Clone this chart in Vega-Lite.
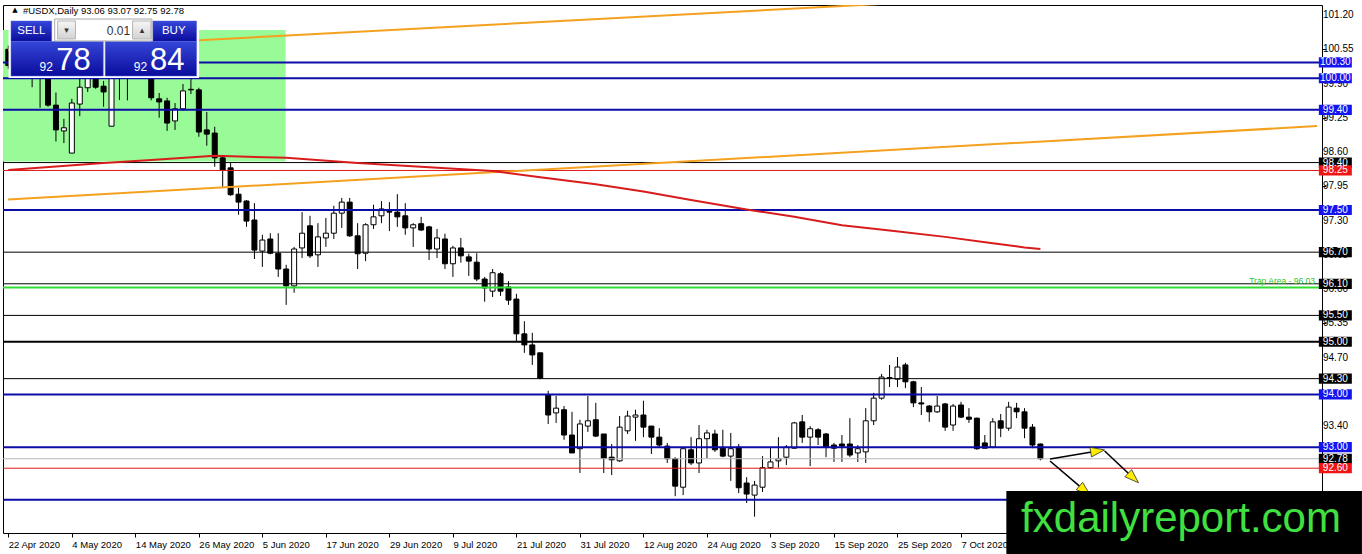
{
  "$schema": "https://vega.github.io/schema/vega-lite/v6.json",
  "width": 1319,
  "height": 528,
  "autosize": {"type": "none"},
  "padding": {"left": 3, "top": 5, "right": 40, "bottom": 21},
  "background": "white",
  "config": {
    "view": {"stroke": "black", "strokeWidth": 1},
    "text": {"font": "Liberation Sans"},
    "axis": {
      "labelFont": "Liberation Sans",
      "labelFontSize": 9.5,
      "labelColor": "black",
      "tickColor": "black",
      "tickSize": 4,
      "labelPadding": 2,
      "domain": false,
      "grid": false,
      "labelOverlap": false
    }
  },
  "datasets": {
    "bars": [
      {"i":0,"d":"2020-04-22","o":100.55,"h":100.62,"l":100.18,"c":100.24},
      {"i":1,"d":"2020-04-23","o":100.25,"h":100.65,"l":100.15,"c":100.55},
      {"i":2,"d":"2020-04-24","o":100.55,"h":100.70,"l":100.25,"c":100.35},
      {"i":3,"d":"2020-04-27","o":100.05,"h":100.55,"l":99.83,"c":100.40},
      {"i":4,"d":"2020-04-28","o":100.40,"h":100.55,"l":99.44,"c":100.15},
      {"i":5,"d":"2020-04-29","o":100.10,"h":100.30,"l":99.46,"c":99.49},
      {"i":6,"d":"2020-04-30","o":99.49,"h":99.73,"l":98.80,"c":99.02},
      {"i":7,"d":"2020-05-01","o":99.00,"h":99.23,"l":98.77,"c":99.06},
      {"i":8,"d":"2020-05-04","o":98.58,"h":99.61,"l":98.58,"c":99.53},
      {"i":9,"d":"2020-05-05","o":99.51,"h":100.10,"l":99.28,"c":99.83},
      {"i":10,"d":"2020-05-06","o":99.82,"h":100.25,"l":99.74,"c":100.10},
      {"i":11,"d":"2020-05-07","o":100.15,"h":100.30,"l":99.80,"c":99.83},
      {"i":12,"d":"2020-05-08","o":99.85,"h":99.95,"l":99.46,"c":99.74},
      {"i":13,"d":"2020-05-11","o":99.09,"h":100.40,"l":99.09,"c":100.25},
      {"i":14,"d":"2020-05-12","o":100.35,"h":100.50,"l":99.59,"c":100.15},
      {"i":15,"d":"2020-05-13","o":100.10,"h":100.55,"l":99.58,"c":100.45},
      {"i":16,"d":"2020-05-14","o":100.45,"h":100.62,"l":100.10,"c":100.30},
      {"i":17,"d":"2020-05-15","o":100.30,"h":100.70,"l":100.15,"c":100.55},
      {"i":18,"d":"2020-05-18","o":100.40,"h":100.60,"l":99.58,"c":99.63},
      {"i":19,"d":"2020-05-19","o":99.61,"h":99.72,"l":99.25,"c":99.55},
      {"i":20,"d":"2020-05-20","o":99.57,"h":99.63,"l":99.00,"c":99.15},
      {"i":21,"d":"2020-05-21","o":99.19,"h":99.53,"l":99.02,"c":99.42},
      {"i":22,"d":"2020-05-22","o":99.42,"h":99.89,"l":99.38,"c":99.76},
      {"i":23,"d":"2020-05-25","o":99.79,"h":99.99,"l":99.70,"c":99.78},
      {"i":24,"d":"2020-05-26","o":99.78,"h":99.82,"l":98.89,"c":98.98},
      {"i":25,"d":"2020-05-27","o":99.02,"h":99.36,"l":98.72,"c":98.94},
      {"i":26,"d":"2020-05-28","o":98.96,"h":99.08,"l":98.32,"c":98.49},
      {"i":27,"d":"2020-05-29","o":98.49,"h":98.54,"l":97.94,"c":98.26},
      {"i":28,"d":"2020-06-01","o":98.30,"h":98.39,"l":97.77,"c":97.79},
      {"i":29,"d":"2020-06-02","o":97.80,"h":97.92,"l":97.41,"c":97.65},
      {"i":30,"d":"2020-06-03","o":97.67,"h":97.69,"l":97.18,"c":97.29},
      {"i":31,"d":"2020-06-04","o":97.31,"h":97.63,"l":96.57,"c":96.74},
      {"i":32,"d":"2020-06-05","o":96.72,"h":97.03,"l":96.42,"c":96.93},
      {"i":33,"d":"2020-06-08","o":96.95,"h":97.06,"l":96.66,"c":96.68},
      {"i":34,"d":"2020-06-09","o":96.68,"h":97.06,"l":96.23,"c":96.38},
      {"i":35,"d":"2020-06-10","o":96.38,"h":96.46,"l":95.70,"c":96.06},
      {"i":36,"d":"2020-06-11","o":96.06,"h":96.80,"l":95.93,"c":96.76},
      {"i":37,"d":"2020-06-12","o":96.78,"h":97.46,"l":96.59,"c":97.06},
      {"i":38,"d":"2020-06-15","o":97.20,"h":97.39,"l":96.59,"c":96.63},
      {"i":39,"d":"2020-06-16","o":96.65,"h":97.25,"l":96.42,"c":96.99},
      {"i":40,"d":"2020-06-17","o":96.97,"h":97.35,"l":96.80,"c":97.06},
      {"i":41,"d":"2020-06-18","o":97.06,"h":97.58,"l":96.95,"c":97.44},
      {"i":42,"d":"2020-06-19","o":97.44,"h":97.73,"l":97.16,"c":97.65},
      {"i":43,"d":"2020-06-22","o":97.65,"h":97.73,"l":96.99,"c":97.01},
      {"i":44,"d":"2020-06-23","o":97.01,"h":97.25,"l":96.38,"c":96.67},
      {"i":45,"d":"2020-06-24","o":96.68,"h":97.25,"l":96.53,"c":97.22},
      {"i":46,"d":"2020-06-25","o":97.22,"h":97.60,"l":97.14,"c":97.37},
      {"i":47,"d":"2020-06-26","o":97.39,"h":97.67,"l":97.25,"c":97.52},
      {"i":48,"d":"2020-06-29","o":97.47,"h":97.65,"l":97.10,"c":97.46},
      {"i":49,"d":"2020-06-30","o":97.46,"h":97.80,"l":97.18,"c":97.37},
      {"i":50,"d":"2020-07-01","o":97.39,"h":97.63,"l":97.03,"c":97.16},
      {"i":51,"d":"2020-07-02","o":97.16,"h":97.25,"l":96.80,"c":97.22},
      {"i":52,"d":"2020-07-03","o":97.24,"h":97.37,"l":97.10,"c":97.12},
      {"i":53,"d":"2020-07-06","o":97.18,"h":97.20,"l":96.55,"c":96.76},
      {"i":54,"d":"2020-07-07","o":96.76,"h":97.14,"l":96.59,"c":96.97},
      {"i":55,"d":"2020-07-08","o":96.95,"h":97.05,"l":96.38,"c":96.48},
      {"i":56,"d":"2020-07-09","o":96.48,"h":96.82,"l":96.23,"c":96.78},
      {"i":57,"d":"2020-07-10","o":96.78,"h":96.97,"l":96.50,"c":96.63},
      {"i":58,"d":"2020-07-13","o":96.61,"h":96.67,"l":96.25,"c":96.53},
      {"i":59,"d":"2020-07-14","o":96.51,"h":96.68,"l":96.15,"c":96.19},
      {"i":60,"d":"2020-07-15","o":96.19,"h":96.23,"l":95.76,"c":96.02},
      {"i":61,"d":"2020-07-16","o":95.96,"h":96.38,"l":95.85,"c":96.31},
      {"i":62,"d":"2020-07-17","o":96.29,"h":96.32,"l":95.87,"c":95.96},
      {"i":63,"d":"2020-07-20","o":96.04,"h":96.15,"l":95.70,"c":95.79},
      {"i":64,"d":"2020-07-21","o":95.81,"h":95.91,"l":95.01,"c":95.15},
      {"i":65,"d":"2020-07-22","o":95.15,"h":95.39,"l":94.79,"c":94.94},
      {"i":66,"d":"2020-07-23","o":94.94,"h":95.17,"l":94.56,"c":94.75},
      {"i":67,"d":"2020-07-24","o":94.79,"h":94.79,"l":94.29,"c":94.31},
      {"i":68,"d":"2020-07-27","o":93.99,"h":94.07,"l":93.44,"c":93.61},
      {"i":69,"d":"2020-07-28","o":93.65,"h":93.97,"l":93.46,"c":93.74},
      {"i":70,"d":"2020-07-29","o":93.71,"h":93.78,"l":93.14,"c":93.23},
      {"i":71,"d":"2020-07-30","o":93.23,"h":93.67,"l":92.89,"c":92.89},
      {"i":72,"d":"2020-07-31","o":92.97,"h":93.52,"l":92.51,"c":93.44},
      {"i":73,"d":"2020-08-03","o":93.40,"h":93.97,"l":93.29,"c":93.50},
      {"i":74,"d":"2020-08-04","o":93.52,"h":93.84,"l":93.19,"c":93.21},
      {"i":75,"d":"2020-08-05","o":93.25,"h":93.25,"l":92.51,"c":92.79},
      {"i":76,"d":"2020-08-06","o":92.81,"h":93.06,"l":92.47,"c":92.76},
      {"i":77,"d":"2020-08-07","o":92.74,"h":93.59,"l":92.72,"c":93.38},
      {"i":78,"d":"2020-08-10","o":93.31,"h":93.69,"l":93.25,"c":93.59},
      {"i":79,"d":"2020-08-11","o":93.57,"h":93.71,"l":93.12,"c":93.61},
      {"i":80,"d":"2020-08-12","o":93.61,"h":93.88,"l":93.19,"c":93.38},
      {"i":81,"d":"2020-08-13","o":93.40,"h":93.40,"l":92.87,"c":93.19},
      {"i":82,"d":"2020-08-14","o":93.19,"h":93.36,"l":93.00,"c":93.04},
      {"i":83,"d":"2020-08-17","o":93.02,"h":93.08,"l":92.70,"c":92.78},
      {"i":84,"d":"2020-08-18","o":92.78,"h":92.81,"l":92.07,"c":92.26},
      {"i":85,"d":"2020-08-19","o":92.24,"h":92.97,"l":92.09,"c":92.97},
      {"i":86,"d":"2020-08-20","o":92.95,"h":93.19,"l":92.66,"c":92.70},
      {"i":87,"d":"2020-08-21","o":92.70,"h":93.42,"l":92.51,"c":93.16},
      {"i":88,"d":"2020-08-24","o":93.16,"h":93.33,"l":92.79,"c":93.27},
      {"i":89,"d":"2020-08-25","o":93.25,"h":93.33,"l":92.91,"c":92.95},
      {"i":90,"d":"2020-08-26","o":92.98,"h":93.33,"l":92.81,"c":92.83},
      {"i":91,"d":"2020-08-27","o":92.83,"h":93.27,"l":92.36,"c":92.97},
      {"i":92,"d":"2020-08-28","o":93.00,"h":93.06,"l":92.13,"c":92.23},
      {"i":93,"d":"2020-08-31","o":92.32,"h":92.43,"l":91.94,"c":92.11},
      {"i":94,"d":"2020-09-01","o":92.09,"h":92.36,"l":91.68,"c":92.28},
      {"i":95,"d":"2020-09-02","o":92.24,"h":92.83,"l":92.15,"c":92.61},
      {"i":96,"d":"2020-09-03","o":92.61,"h":93.00,"l":92.59,"c":92.72},
      {"i":97,"d":"2020-09-04","o":92.74,"h":93.19,"l":92.61,"c":92.78},
      {"i":98,"d":"2020-09-07","o":92.81,"h":93.04,"l":92.66,"c":93.00},
      {"i":99,"d":"2020-09-08","o":92.98,"h":93.48,"l":92.97,"c":93.46},
      {"i":100,"d":"2020-09-09","o":93.48,"h":93.61,"l":93.08,"c":93.19},
      {"i":101,"d":"2020-09-10","o":93.19,"h":93.40,"l":92.64,"c":93.35},
      {"i":102,"d":"2020-09-11","o":93.33,"h":93.36,"l":93.04,"c":93.19},
      {"i":103,"d":"2020-09-14","o":93.25,"h":93.27,"l":92.81,"c":93.00},
      {"i":104,"d":"2020-09-15","o":93.04,"h":93.08,"l":92.72,"c":92.98},
      {"i":105,"d":"2020-09-16","o":93.06,"h":93.23,"l":92.72,"c":93.02},
      {"i":106,"d":"2020-09-17","o":93.06,"h":93.55,"l":92.81,"c":92.85},
      {"i":107,"d":"2020-09-18","o":92.89,"h":93.04,"l":92.72,"c":92.97},
      {"i":108,"d":"2020-09-21","o":92.91,"h":93.74,"l":92.70,"c":93.50},
      {"i":109,"d":"2020-09-22","o":93.50,"h":94.03,"l":93.42,"c":93.93},
      {"i":110,"d":"2020-09-23","o":93.93,"h":94.39,"l":93.90,"c":94.33},
      {"i":111,"d":"2020-09-24","o":94.31,"h":94.56,"l":94.14,"c":94.32},
      {"i":112,"d":"2020-09-25","o":94.29,"h":94.71,"l":94.14,"c":94.52},
      {"i":113,"d":"2020-09-28","o":94.56,"h":94.60,"l":94.12,"c":94.24},
      {"i":114,"d":"2020-09-29","o":94.24,"h":94.26,"l":93.76,"c":93.84},
      {"i":115,"d":"2020-09-30","o":93.84,"h":94.14,"l":93.61,"c":93.82},
      {"i":116,"d":"2020-10-01","o":93.78,"h":93.80,"l":93.48,"c":93.67},
      {"i":117,"d":"2020-10-02","o":93.67,"h":93.97,"l":93.65,"c":93.78},
      {"i":118,"d":"2020-10-05","o":93.82,"h":93.84,"l":93.31,"c":93.38},
      {"i":119,"d":"2020-10-06","o":93.42,"h":93.82,"l":93.31,"c":93.78},
      {"i":120,"d":"2020-10-07","o":93.80,"h":93.86,"l":93.55,"c":93.57},
      {"i":121,"d":"2020-10-08","o":93.57,"h":93.74,"l":93.46,"c":93.53},
      {"i":122,"d":"2020-10-09","o":93.55,"h":93.56,"l":92.95,"c":92.97},
      {"i":123,"d":"2020-10-12","o":93.08,"h":93.23,"l":92.98,"c":92.98},
      {"i":124,"d":"2020-10-13","o":93.00,"h":93.55,"l":92.98,"c":93.48},
      {"i":125,"d":"2020-10-14","o":93.50,"h":93.63,"l":93.19,"c":93.36},
      {"i":126,"d":"2020-10-15","o":93.36,"h":93.86,"l":93.31,"c":93.76},
      {"i":127,"d":"2020-10-16","o":93.74,"h":93.84,"l":93.55,"c":93.67},
      {"i":128,"d":"2020-10-19","o":93.67,"h":93.74,"l":93.17,"c":93.36},
      {"i":129,"d":"2020-10-20","o":93.38,"h":93.44,"l":92.98,"c":93.04},
      {"i":130,"d":"2020-10-21","o":93.06,"h":93.07,"l":92.75,"c":92.78}
    ],
    "ma": [
      {"i":0,"v":98.26},{"i":12,"v":98.39},{"i":18,"v":98.45},{"i":26,"v":98.53},
      {"i":35,"v":98.49},{"i":44,"v":98.39},{"i":53,"v":98.31},{"i":61,"v":98.24},
      {"i":67,"v":98.12},{"i":74,"v":97.99},{"i":80,"v":97.85},{"i":86,"v":97.69},
      {"i":93,"v":97.51},{"i":99,"v":97.37},{"i":105,"v":97.21},{"i":111,"v":97.11},
      {"i":118,"v":96.99},{"i":124,"v":96.87},{"i":128,"v":96.79},{"i":130,"v":96.76}
    ],
    "levels": [
      {"level":100.30,"kind":"blue"},
      {"level":100.00,"kind":"blue"},
      {"level":99.40,"kind":"blue"},
      {"level":98.40,"kind":"black"},
      {"level":98.25,"kind":"red"},
      {"level":97.50,"kind":"blue"},
      {"level":96.70,"kind":"black"},
      {"level":96.10,"kind":"black"},
      {"level":96.03,"kind":"green"},
      {"level":95.50,"kind":"black"},
      {"level":95.00,"kind":"bold"},
      {"level":94.30,"kind":"black"},
      {"level":94.00,"kind":"blue"},
      {"level":93.00,"kind":"blue"},
      {"level":92.78,"kind":"grey"},
      {"level":92.60,"kind":"red"},
      {"level":92.00,"kind":"blue"}
    ],
    "priceTicks": [
      {"t":101.20},{"t":100.55},{"t":99.90},{"t":99.25},{"t":98.60},{"t":97.95},
      {"t":97.30},{"t":96.65},{"t":96.00},{"t":95.35},{"t":94.70},{"t":93.40}
    ]
  },
  "layer": [
    {
      "data": {"values": [{}]},
      "mark": {"type": "rect", "color": "#98fb98", "clip": true},
      "encoding": {
        "x": {"datum": -1},
        "x2": {"datum": 34.93},
        "y": {"datum": 100.916},
        "y2": {"datum": 98.42}
      }
    },
    {
      "data": {"name": "bars"},
      "mark": {"type": "rule", "color": "black", "strokeWidth": 1, "clip": true},
      "encoding": {
        "x": {
          "field": "i",
          "type": "quantitative",
          "scale": {"domain": [-0.04, 164.84], "nice": false, "zero": false},
          "axis": {
            "title": null,
            "orient": "bottom",
            "values": [0, 8, 16, 24, 32, 40, 48, 56, 64, 72, 80, 88, 96, 104, 112, 120, 128],
            "labelExpr": "['22 Apr 2020','4 May 2020','14 May 2020','26 May 2020','5 Jun 2020','17 Jun 2020','29 Jun 2020','9 Jul 2020','21 Jul 2020','31 Jul 2020','12 Aug 2020','24 Aug 2020','3 Sep 2020','15 Sep 2020','25 Sep 2020','7 Oct 2020','19 Oct 2020'][round(datum.value / 8)]",
            "labelAlign": "left",
            "labelBaseline": "top",
            "labelOverlap": false,
            "labelFlush": false
          }
        },
        "y": {
          "field": "l",
          "type": "quantitative",
          "scale": {"domain": [91.371, 101.39], "nice": false, "zero": false},
          "axis": {
            "title": null,
            "orient": "right",
            "values": [101.2, 100.55, 99.9, 99.25, 98.6, 97.95, 97.3, 96.65, 96, 95.35, 94.7, 94.05, 93.4, 92.75, 92.1, 91.45],
            "labels": false
          }
        },
        "y2": {"field": "h"}
      }
    },
    {
      "data": {"name": "bars"},
      "mark": {"type": "bar", "width": 5, "stroke": "black", "strokeWidth": 1, "clip": true},
      "encoding": {
        "x": {"field": "i", "type": "quantitative"},
        "y": {"field": "o", "type": "quantitative"},
        "y2": {"field": "c"},
        "fill": {"condition": {"test": "datum.c > datum.o", "value": "white"}, "value": "black"},
        "tooltip": [
          {"field": "d", "title": "Date"},
          {"field": "o", "title": "Open"},
          {"field": "h", "title": "High"},
          {"field": "l", "title": "Low"},
          {"field": "c", "title": "Close"}
        ]
      }
    },
    {
      "data": {"name": "levels"},
      "transform": [{"filter": "datum.kind == 'black' || datum.kind == 'red' || datum.kind == 'grey'"}],
      "mark": {"type": "rule", "strokeWidth": 1},
      "encoding": {
        "y": {"field": "level", "type": "quantitative"},
        "stroke": {
          "field": "kind",
          "type": "nominal",
          "scale": {
            "domain": ["blue", "black", "bold", "red", "green", "grey"],
            "range": ["#0c0ca8", "#000000", "#000000", "#e01818", "#33dd33", "#b8b8b8"]
          },
          "legend": null
        }
      }
    },
    {
      "data": {"name": "levels"},
      "transform": [{"filter": "datum.kind == 'blue' || datum.kind == 'bold' || datum.kind == 'green'"}],
      "mark": {"type": "rule", "strokeWidth": 2},
      "encoding": {
        "y": {"field": "level", "type": "quantitative"},
        "stroke": {"field": "kind", "type": "nominal", "legend": null}
      }
    },
    {
      "data": {"values": [
        {"i1": 0, "p1": 100.53, "i2": 120, "p2": 101.49},
        {"i1": -0.04, "p1": 97.70, "i2": 164.84, "p2": 99.092}
      ]},
      "mark": {"type": "rule", "color": "#f4a11f", "strokeWidth": 2, "clip": true},
      "encoding": {
        "x": {"field": "i1", "type": "quantitative"},
        "x2": {"field": "i2"},
        "y": {"field": "p1", "type": "quantitative"},
        "y2": {"field": "p2"}
      }
    },
    {
      "data": {"name": "ma"},
      "mark": {"type": "line", "color": "#d81c1c", "strokeWidth": 2, "clip": true},
      "encoding": {
        "x": {"field": "i", "type": "quantitative"},
        "y": {"field": "v", "type": "quantitative"}
      }
    },
    {
      "data": {"values": [{}]},
      "mark": {"type": "text", "text": "Trap Area - 96.03", "color": "#2ec42e", "fontSize": 8.5, "align": "right", "baseline": "bottom", "dy": -1},
      "encoding": {"x": {"datum": 164.59}, "y": {"datum": 96.03}}
    },
    {
      "data": {"values": [
        {"x1": 131.21, "y1": 92.775, "x2": 137.21, "y2": 92.927},
        {"x1": 138.09, "y1": 92.927, "x2": 141.71, "y2": 92.415},
        {"x1": 131.21, "y1": 92.737, "x2": 135.59, "y2": 92.177}
      ]},
      "mark": {"type": "rule", "color": "black", "strokeWidth": 1.6, "clip": false},
      "encoding": {
        "x": {"field": "x1", "type": "quantitative"},
        "x2": {"field": "x2"},
        "y": {"field": "y1", "type": "quantitative"},
        "y2": {"field": "y2"}
      }
    },
    {
      "data": {"values": [{}]},
      "mark": {"type": "point", "shape": "M1,0L-1,-0.7L-1,0.7Z", "size": 196, "filled": true, "fill": "#ffee00", "stroke": "#222222", "strokeWidth": 0.7, "opacity": 1, "angle": -9},
      "encoding": {"x": {"datum": 137.21}, "y": {"datum": 92.927}}
    },
    {
      "data": {"values": [{}]},
      "mark": {"type": "point", "shape": "M1,0L-1,-0.7L-1,0.7Z", "size": 196, "filled": true, "fill": "#ffee00", "stroke": "#222222", "strokeWidth": 0.7, "opacity": 1, "angle": 43},
      "encoding": {"x": {"datum": 141.71}, "y": {"datum": 92.415}}
    },
    {
      "data": {"values": [{}]},
      "mark": {"type": "point", "shape": "M1,0L-1,-0.7L-1,0.7Z", "size": 196, "filled": true, "fill": "#ffee00", "stroke": "#222222", "strokeWidth": 0.7, "opacity": 1, "angle": 40},
      "encoding": {"x": {"datum": 135.59}, "y": {"datum": 92.177}}
    },
    {
      "data": {"values": [{}]},
      "mark": {"type": "text", "text": "▲", "font": "DejaVu Sans", "fontSize": 7, "color": "black", "align": "center", "baseline": "middle"},
      "encoding": {"x": {"datum": 0.84}, "y": {"datum": 101.295}}
    },
    {
      "data": {"values": [{}]},
      "mark": {"type": "text", "text": "#USDX,Daily  93.06 93.07 92.75 92.78", "fontSize": 9.5, "color": "black", "align": "left", "baseline": "alphabetic"},
      "encoding": {"x": {"datum": 1.84}, "y": {"datum": 101.219}}
    },
    {
      "data": {"values": [{}]},
      "mark": {"type": "rect", "color": "white"},
      "encoding": {"x": {"datum": 0.03}, "x2": {"datum": 24.03}, "y": {"datum": 101.143}, "y2": {"datum": 100.005}}
    },
    {
      "data": {"values": [
        {"x1": 0.34, "x2": 5.46, "y1": 101.086, "y2": 100.697},
        {"x1": 18.21, "x2": 23.71, "y1": 101.086, "y2": 100.697},
        {"x1": 0.34, "x2": 11.96, "y1": 100.697, "y2": 100.043},
        {"x1": 12.21, "x2": 23.71, "y1": 100.697, "y2": 100.043}
      ]},
      "mark": {
        "type": "rect",
        "fill": {"gradient": "linear", "x1": 0, "y1": 0, "x2": 0, "y2": 1, "stops": [{"offset": 0, "color": "#3546d8"}, {"offset": 1, "color": "#0a0c9c"}]},
        "stroke": "#5060e0",
        "strokeWidth": 0.5
      },
      "encoding": {
        "x": {"field": "x1", "type": "quantitative"},
        "x2": {"field": "x2"},
        "y": {"field": "y1", "type": "quantitative"},
        "y2": {"field": "y2"}
      }
    },
    {
      "data": {"values": [{}]},
      "mark": {"type": "rect", "fill": "white", "stroke": "#a8a8a8", "strokeWidth": 1},
      "encoding": {"x": {"datum": 5.84}, "x2": {"datum": 18.09}, "y": {"datum": 101.124}, "y2": {"datum": 100.707}}
    },
    {
      "data": {"values": [
        {"x1": 6.21, "x2": 8.46},
        {"x1": 15.65, "x2": 17.96}
      ]},
      "mark": {
        "type": "rect",
        "fill": {"gradient": "linear", "x1": 0, "y1": 0, "x2": 0, "y2": 1, "stops": [{"offset": 0, "color": "#f6f6f6"}, {"offset": 1, "color": "#d2d2d2"}]},
        "stroke": "#b4b4b4",
        "strokeWidth": 1
      },
      "encoding": {
        "x": {"field": "x1", "type": "quantitative"},
        "x2": {"field": "x2"},
        "y": {"datum": 101.086},
        "y2": {"datum": 100.745}
      }
    },
    {
      "data": {"values": [{}]},
      "mark": {"type": "text", "text": "▾", "font": "DejaVu Sans", "fontSize": 9, "color": "#333333", "align": "center", "baseline": "middle"},
      "encoding": {"x": {"datum": 7.34}, "y": {"datum": 100.916}}
    },
    {
      "data": {"values": [{}]},
      "mark": {"type": "text", "text": "▴", "font": "DejaVu Sans", "fontSize": 9, "color": "#333333", "align": "center", "baseline": "middle"},
      "encoding": {"x": {"datum": 16.84}, "y": {"datum": 100.916}}
    },
    {
      "data": {"values": [{}]},
      "mark": {"type": "text", "text": "0.01", "fontSize": 12, "color": "#333333", "align": "right", "baseline": "middle"},
      "encoding": {"x": {"datum": 15.34}, "y": {"datum": 100.897}}
    },
    {
      "data": {"values": [{}]},
      "mark": {"type": "text", "text": "SELL", "fontSize": 11.5, "color": "white", "align": "center", "baseline": "middle"},
      "encoding": {"x": {"datum": 2.9}, "y": {"datum": 100.897}}
    },
    {
      "data": {"values": [{}]},
      "mark": {"type": "text", "text": "BUY", "fontSize": 11.5, "color": "white", "align": "center", "baseline": "middle"},
      "encoding": {"x": {"datum": 20.84}, "y": {"datum": 100.897}}
    },
    {
      "data": {"values": [{}]},
      "mark": {"type": "text", "text": "92", "fontSize": 12, "color": "white", "align": "center", "baseline": "alphabetic"},
      "encoding": {"x": {"datum": 4.78}, "y": {"datum": 100.138}}
    },
    {
      "data": {"values": [{}]},
      "mark": {"type": "text", "text": "92", "fontSize": 12, "color": "white", "align": "center", "baseline": "alphabetic"},
      "encoding": {"x": {"datum": 16.65}, "y": {"datum": 100.138}}
    },
    {
      "data": {"values": [{}]},
      "mark": {"type": "text", "text": "78", "fontSize": 31, "color": "white", "align": "center", "baseline": "alphabetic"},
      "encoding": {"x": {"datum": 8.21}, "y": {"datum": 100.157}}
    },
    {
      "data": {"values": [{}]},
      "mark": {"type": "text", "text": "84", "fontSize": 31, "color": "white", "align": "center", "baseline": "alphabetic"},
      "encoding": {"x": {"datum": 20.03}, "y": {"datum": 100.157}}
    },
    {
      "data": {"name": "priceTicks"},
      "mark": {"type": "text", "color": "black", "fontSize": 10, "align": "left", "baseline": "middle", "dx": 6, "clip": false},
      "encoding": {
        "x": {"datum": 164.84},
        "y": {"field": "t", "type": "quantitative"},
        "text": {"field": "t", "type": "quantitative", "format": ".2f"}
      }
    },
    {
      "data": {"name": "levels"},
      "transform": [{"filter": "datum.kind != 'green' && datum.level != 92"}],
      "mark": {"type": "point", "shape": "M-1,-0.31H1V0.31H-1Z", "size": 1089, "filled": true, "opacity": 1, "strokeWidth": 0, "clip": false},
      "encoding": {
        "x": {"datum": 167.15},
        "y": {"field": "level", "type": "quantitative"},
        "fill": {
          "field": "kind",
          "type": "nominal",
          "scale": {
            "domain": ["blue", "black", "bold", "red", "grey"],
            "range": ["#1414f0", "#000000", "#000000", "#f01414", "#000000"]
          },
          "legend": null
        }
      }
    },
    {
      "data": {"name": "levels"},
      "transform": [{"filter": "datum.kind != 'green' && datum.level != 92"}],
      "mark": {"type": "text", "color": "white", "fontSize": 10, "align": "center", "baseline": "middle", "clip": false},
      "encoding": {
        "x": {"datum": 167.15},
        "y": {"field": "level", "type": "quantitative"},
        "text": {"field": "level", "type": "quantitative", "format": ".2f"}
      }
    },
    {
      "data": {"values": [{}]},
      "mark": {"type": "rect", "color": "black", "clip": false},
      "encoding": {"x": {"datum": 125.71}, "x2": {"datum": 170.5}, "y": {"datum": 92.168}, "y2": {"datum": 90.9}}
    },
    {
      "data": {"values": [{}]},
      "mark": {"type": "text", "text": "fxdailyreport.com", "fontSize": 42, "color": "#40e040", "align": "center", "baseline": "alphabetic", "clip": false},
      "encoding": {"x": {"datum": 147.71}, "y": {"datum": 91.39}}
    }
  ]
}
